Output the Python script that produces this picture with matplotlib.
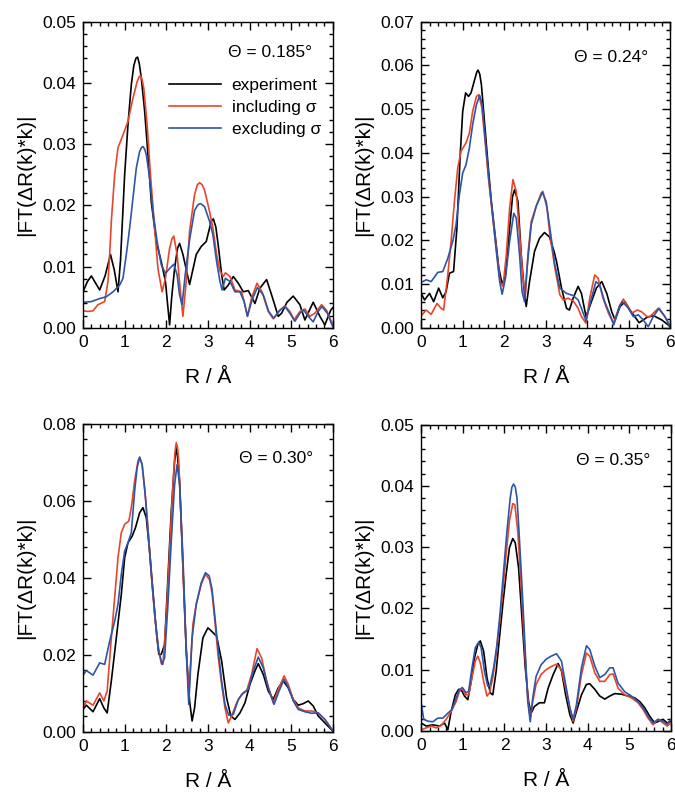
import matplotlib
matplotlib.use("Agg")
import matplotlib.pyplot as plt
from matplotlib.ticker import MultipleLocator, FormatStrFormatter

plt.rcParams['font.family'] = ['Liberation Sans', 'DejaVu Sans']

# |FT(dR(k)*k)| vs R, pairs of (R in Angstrom, magnitude)
# theta = 0.185 deg
exp_185 = [(0.0, 0.0059), (0.1, 0.0075), (0.2, 0.0085), (0.4, 0.0062), (0.53, 0.0085), (0.66, 0.012),
           (0.75, 0.0095), (0.84, 0.0059), (0.9, 0.011), (0.95, 0.018), (1.0, 0.025), (1.08, 0.0332),
           (1.16, 0.0397), (1.22, 0.0428), (1.27, 0.0440), (1.31, 0.0442), (1.35, 0.0432), (1.4, 0.0408),
           (1.48, 0.0354), (1.56, 0.0283), (1.64, 0.0206), (1.76, 0.0141), (1.88, 0.0108), (1.98, 0.0076),
           (2.03, 0.004), (2.08, 0.0005), (2.13, 0.005), (2.2, 0.0097), (2.27, 0.0130), (2.32, 0.0138),
           (2.4, 0.012), (2.56, 0.0071), (2.72, 0.012), (2.84, 0.0133), (2.96, 0.0141), (3.08, 0.0174),
           (3.13, 0.0178), (3.19, 0.0165), (3.25, 0.0134), (3.33, 0.0087), (3.39, 0.0062), (3.49, 0.007),
           (3.61, 0.0084), (3.73, 0.0073), (3.85, 0.0059), (3.97, 0.0061), (4.13, 0.004), (4.25, 0.0065),
           (4.41, 0.0079), (4.53, 0.0054), (4.69, 0.0019), (4.77, 0.0024), (4.9, 0.0042), (5.05, 0.0052),
           (5.21, 0.0038), (5.33, 0.0013), (5.53, 0.0042), (5.69, 0.0019), (5.81, 0.0005), (5.95, 0.0029),
           (6.0, 0.0033)]
inc_185 = [(0.0, 0.0028), (0.12, 0.0027), (0.24, 0.0028), (0.36, 0.0038), (0.52, 0.0043), (0.6, 0.0076),
           (0.64, 0.0120), (0.68, 0.0174), (0.76, 0.025), (0.84, 0.0294), (0.96, 0.0315), (1.08, 0.0337),
           (1.2, 0.0375), (1.3, 0.0402), (1.35, 0.0410), (1.38, 0.0412), (1.42, 0.0405), (1.46, 0.0391),
           (1.54, 0.0332), (1.62, 0.025), (1.72, 0.0163), (1.8, 0.0097), (1.9, 0.0059), (1.98, 0.0081),
           (2.08, 0.013), (2.14, 0.0146), (2.18, 0.015), (2.26, 0.012), (2.34, 0.0059), (2.4, 0.0019),
           (2.48, 0.0076), (2.56, 0.0158), (2.68, 0.0218), (2.75, 0.0234), (2.8, 0.0237), (2.86, 0.0234),
           (2.92, 0.0225), (3.04, 0.019), (3.12, 0.0163), (3.21, 0.012), (3.29, 0.0093), (3.37, 0.0084),
           (3.42, 0.009), (3.53, 0.0084), (3.65, 0.0062), (3.81, 0.0059), (3.89, 0.0038), (3.95, 0.0019),
           (4.05, 0.0049), (4.18, 0.0073), (4.3, 0.0059), (4.45, 0.0027), (4.57, 0.0015), (4.73, 0.0029),
           (4.85, 0.0036), (4.97, 0.0027), (5.07, 0.0013), (5.21, 0.0027), (5.33, 0.0031), (5.45, 0.0019),
           (5.57, 0.0024), (5.73, 0.0038), (5.85, 0.0029), (6.0, 0.0005)]
exc_185 = [(0.0, 0.0042), (0.2, 0.0043), (0.4, 0.0048), (0.56, 0.0051), (0.72, 0.0059), (0.88, 0.007),
           (0.96, 0.0081), (1.04, 0.012), (1.12, 0.0163), (1.2, 0.0212), (1.28, 0.0261), (1.36, 0.0288),
           (1.4, 0.0294), (1.44, 0.0296), (1.48, 0.0292), (1.52, 0.0283), (1.6, 0.0245), (1.68, 0.019),
           (1.78, 0.0141), (1.88, 0.0103), (1.98, 0.0089), (2.08, 0.0097), (2.18, 0.0104), (2.26, 0.0087),
           (2.32, 0.0054), (2.38, 0.0038), (2.46, 0.009), (2.56, 0.0144), (2.68, 0.0192), (2.76, 0.0201),
           (2.82, 0.0203), (2.92, 0.0198), (3.04, 0.0174), (3.12, 0.0152), (3.21, 0.0108), (3.29, 0.0076),
           (3.34, 0.0062), (3.42, 0.0081), (3.53, 0.0076), (3.65, 0.0059), (3.77, 0.0059), (3.87, 0.0043),
           (3.95, 0.0019), (4.06, 0.0046), (4.19, 0.0066), (4.33, 0.0054), (4.46, 0.0027), (4.58, 0.0016),
           (4.73, 0.0029), (4.85, 0.0035), (4.97, 0.0024), (5.09, 0.0011), (5.21, 0.0024), (5.3, 0.0029),
           (5.45, 0.0016), (5.53, 0.001), (5.65, 0.0027), (5.74, 0.0035), (5.87, 0.0024), (6.0, 0.0002)]

# theta = 0.24 deg
exp_24 = [(0.0, 0.0079), (0.08, 0.0064), (0.2, 0.0079), (0.3, 0.006), (0.42, 0.0091), (0.52, 0.0069),
          (0.6, 0.0083), (0.68, 0.0125), (0.78, 0.0129), (0.86, 0.0228), (0.94, 0.0396), (1.0, 0.0495),
          (1.07, 0.0537), (1.14, 0.0529), (1.2, 0.0537), (1.29, 0.0568), (1.34, 0.0585), (1.37, 0.0589),
          (1.41, 0.0580), (1.45, 0.0556), (1.53, 0.0465), (1.61, 0.0373), (1.69, 0.0289), (1.78, 0.0213),
          (1.87, 0.0137), (1.95, 0.01), (2.03, 0.0121), (2.13, 0.0228), (2.2, 0.0300), (2.25, 0.0316),
          (2.33, 0.0289), (2.41, 0.0167), (2.49, 0.0076), (2.53, 0.0049), (2.61, 0.0106), (2.73, 0.0175),
          (2.85, 0.0205), (2.97, 0.0218), (3.09, 0.0208), (3.2, 0.0175), (3.26, 0.0152), (3.38, 0.0091),
          (3.5, 0.0045), (3.57, 0.0041), (3.66, 0.0068), (3.78, 0.0095), (3.86, 0.0079), (3.97, 0.0026),
          (4.1, 0.006), (4.22, 0.0091), (4.35, 0.0106), (4.47, 0.0079), (4.59, 0.0037), (4.67, 0.0018),
          (4.79, 0.0049), (4.91, 0.006), (5.03, 0.0041), (5.25, 0.0012), (5.45, 0.0025), (5.6, 0.0028),
          (5.8, 0.0018), (5.95, 0.0007), (6.0, 0.0002)]
inc_24 = [(0.0, 0.0028), (0.12, 0.0041), (0.24, 0.0031), (0.38, 0.0056), (0.48, 0.0045), (0.54, 0.0041),
          (0.64, 0.0121), (0.72, 0.0198), (0.8, 0.0289), (0.88, 0.0365), (0.96, 0.0404), (1.08, 0.0423),
          (1.16, 0.0445), (1.24, 0.0495), (1.33, 0.0529), (1.39, 0.0533), (1.46, 0.0503), (1.54, 0.0426),
          (1.62, 0.0342), (1.71, 0.0266), (1.81, 0.0182), (1.9, 0.0106), (1.97, 0.0095), (2.05, 0.0167),
          (2.13, 0.0274), (2.21, 0.0339), (2.29, 0.0312), (2.37, 0.0213), (2.45, 0.0114), (2.51, 0.0076),
          (2.57, 0.0167), (2.65, 0.0243), (2.77, 0.0278), (2.89, 0.0308), (2.93, 0.0312), (3.03, 0.0274),
          (3.1, 0.0213), (3.22, 0.0137), (3.34, 0.0076), (3.42, 0.0064), (3.54, 0.0068), (3.66, 0.0062),
          (3.78, 0.0045), (3.86, 0.0026), (3.97, 0.0011), (4.06, 0.0068), (4.18, 0.0121), (4.26, 0.0114),
          (4.38, 0.0068), (4.51, 0.0034), (4.63, 0.0011), (4.79, 0.0053), (4.87, 0.0066), (4.95, 0.0053),
          (5.07, 0.0034), (5.21, 0.0041), (5.31, 0.0037), (5.44, 0.0026), (5.51, 0.0026), (5.71, 0.0045),
          (5.87, 0.0026), (6.0, 0.0003)]
exc_24 = [(0.0, 0.0104), (0.12, 0.011), (0.24, 0.0106), (0.4, 0.0127), (0.52, 0.0129), (0.64, 0.0159),
          (0.76, 0.0198), (0.84, 0.0236), (0.92, 0.0304), (1.0, 0.0354), (1.08, 0.0373), (1.16, 0.0411),
          (1.24, 0.0465), (1.33, 0.051), (1.41, 0.0531), (1.47, 0.051), (1.54, 0.0434), (1.62, 0.035),
          (1.71, 0.0266), (1.81, 0.0175), (1.89, 0.0106), (1.95, 0.0077), (2.03, 0.0114), (2.13, 0.0198),
          (2.23, 0.0262), (2.29, 0.0251), (2.37, 0.0167), (2.43, 0.0083), (2.49, 0.006), (2.55, 0.0137),
          (2.65, 0.0236), (2.77, 0.0278), (2.92, 0.031), (3.01, 0.0289), (3.1, 0.0228), (3.22, 0.0144),
          (3.34, 0.0091), (3.5, 0.0079), (3.66, 0.0074), (3.78, 0.0064), (3.86, 0.0045), (3.97, 0.0016),
          (4.08, 0.006), (4.21, 0.0106), (4.3, 0.0098), (4.42, 0.006), (4.55, 0.003), (4.64, 0.0007),
          (4.77, 0.0049), (4.85, 0.006), (4.99, 0.0045), (5.11, 0.0026), (5.23, 0.003), (5.35, 0.0018),
          (5.47, 0.0003), (5.59, 0.0026), (5.73, 0.0045), (5.87, 0.0026), (6.0, 0.0003)]

# theta = 0.30 deg
exp_30 = [(0.0, 0.0058), (0.08, 0.0069), (0.24, 0.0052), (0.4, 0.0086), (0.5, 0.0062), (0.58, 0.0049),
          (0.68, 0.0132), (0.8, 0.0244), (0.92, 0.0357), (1.0, 0.0452), (1.08, 0.0491), (1.18, 0.0508),
          (1.26, 0.053), (1.36, 0.0569), (1.44, 0.0582), (1.52, 0.0556), (1.6, 0.0469), (1.68, 0.0365),
          (1.76, 0.0261), (1.82, 0.0201), (1.88, 0.0201), (1.96, 0.0227), (2.04, 0.04), (2.12, 0.0573),
          (2.2, 0.0703), (2.25, 0.0742), (2.32, 0.0651), (2.4, 0.0426), (2.48, 0.021), (2.56, 0.008),
          (2.62, 0.0028), (2.68, 0.0062), (2.76, 0.0149), (2.88, 0.0244), (3.0, 0.027), (3.09, 0.0261),
          (3.21, 0.0248), (3.33, 0.0184), (3.45, 0.0088), (3.55, 0.0041), (3.65, 0.0032), (3.77, 0.0049),
          (3.89, 0.0075), (4.01, 0.0123), (4.13, 0.0158), (4.21, 0.0177), (4.33, 0.0149), (4.45, 0.0106),
          (4.57, 0.0084), (4.69, 0.0114), (4.81, 0.0132), (4.93, 0.0114), (5.05, 0.0084), (5.17, 0.0069),
          (5.29, 0.0073), (5.41, 0.008), (5.53, 0.0067), (5.65, 0.0041), (5.81, 0.0023), (6.0, 0.0002)]
inc_30 = [(0.0, 0.0062), (0.08, 0.008), (0.24, 0.0069), (0.4, 0.0101), (0.5, 0.008), (0.58, 0.0106),
          (0.68, 0.0244), (0.76, 0.0348), (0.84, 0.0452), (0.92, 0.0517), (1.0, 0.0539), (1.1, 0.0547),
          (1.16, 0.0582), (1.24, 0.0651), (1.32, 0.0703), (1.36, 0.0713), (1.42, 0.0694), (1.48, 0.0634),
          (1.56, 0.053), (1.64, 0.0409), (1.72, 0.0305), (1.8, 0.0223), (1.88, 0.0177), (1.92, 0.0175),
          (2.0, 0.0296), (2.08, 0.0469), (2.16, 0.0642), (2.21, 0.0728), (2.24, 0.0751), (2.27, 0.0738),
          (2.3, 0.0703), (2.38, 0.0487), (2.46, 0.0261), (2.54, 0.0097), (2.64, 0.0279), (2.72, 0.0331),
          (2.84, 0.0383), (2.94, 0.0409), (3.04, 0.0395), (3.1, 0.036), (3.17, 0.0285), (3.25, 0.0192),
          (3.33, 0.0123), (3.41, 0.0062), (3.49, 0.0023), (3.57, 0.0041), (3.69, 0.0075), (3.81, 0.0097),
          (3.93, 0.0106), (4.05, 0.0149), (4.18, 0.0216), (4.29, 0.0192), (4.41, 0.0132), (4.57, 0.0075),
          (4.69, 0.011), (4.83, 0.0145), (4.93, 0.0123), (5.05, 0.0084), (5.17, 0.0062), (5.33, 0.0054),
          (5.49, 0.0054), (5.65, 0.0049), (5.81, 0.0032), (6.0, 0.0003)]
exc_30 = [(0.0, 0.0147), (0.08, 0.0159), (0.24, 0.0147), (0.4, 0.0179), (0.52, 0.0175), (0.64, 0.0235),
          (0.76, 0.0287), (0.84, 0.0331), (0.92, 0.0409), (1.0, 0.0469), (1.08, 0.0491), (1.16, 0.0517),
          (1.24, 0.0625), (1.3, 0.0686), (1.36, 0.0713), (1.42, 0.0694), (1.5, 0.0608), (1.58, 0.0495),
          (1.66, 0.0383), (1.74, 0.0287), (1.82, 0.021), (1.9, 0.0175), (1.96, 0.0192), (2.04, 0.0331),
          (2.12, 0.0495), (2.2, 0.0642), (2.26, 0.0694), (2.32, 0.0642), (2.4, 0.0452), (2.48, 0.021),
          (2.54, 0.0071), (2.62, 0.0244), (2.72, 0.0331), (2.84, 0.0387), (2.94, 0.0413), (3.03, 0.0405),
          (3.1, 0.037), (3.17, 0.0296), (3.25, 0.021), (3.33, 0.0132), (3.41, 0.0071), (3.5, 0.0043),
          (3.61, 0.0045), (3.73, 0.0084), (3.85, 0.0101), (3.97, 0.011), (4.09, 0.0158), (4.21, 0.0194),
          (4.33, 0.0166), (4.45, 0.0114), (4.59, 0.0071), (4.71, 0.0106), (4.83, 0.0136), (4.93, 0.0116),
          (5.05, 0.008), (5.17, 0.0058), (5.33, 0.0052), (5.49, 0.0048), (5.65, 0.0049), (5.81, 0.0032),
          (6.0, 0.0003)]

# theta = 0.35 deg
exp_35 = [(0.0, 0.0013), (0.12, 0.0008), (0.28, 0.001), (0.44, 0.0008), (0.56, 0.0013), (0.64, 0.0002),
          (0.72, 0.0032), (0.82, 0.0059), (0.9, 0.0068), (0.98, 0.0065), (1.04, 0.0057), (1.12, 0.0051),
          (1.2, 0.0081), (1.28, 0.0119), (1.36, 0.0141), (1.42, 0.0147), (1.5, 0.013), (1.58, 0.0087),
          (1.66, 0.0062), (1.72, 0.0059), (1.8, 0.0097), (1.88, 0.0152), (1.96, 0.0206), (2.04, 0.0255),
          (2.12, 0.0299), (2.2, 0.0314), (2.26, 0.0307), (2.34, 0.0266), (2.42, 0.0185), (2.5, 0.0103),
          (2.58, 0.0048), (2.64, 0.0029), (2.72, 0.004), (2.84, 0.0046), (2.96, 0.0046), (3.05, 0.007),
          (3.17, 0.0092), (3.29, 0.011), (3.37, 0.0098), (3.47, 0.0059), (3.57, 0.0027), (3.65, 0.0013),
          (3.73, 0.0032), (3.85, 0.0059), (3.97, 0.0076), (4.05, 0.0077), (4.17, 0.0068), (4.29, 0.0057),
          (4.41, 0.0052), (4.53, 0.0057), (4.65, 0.0061), (4.81, 0.006), (4.97, 0.0057), (5.13, 0.0054),
          (5.25, 0.0048), (5.37, 0.0038), (5.49, 0.0024), (5.61, 0.0013), (5.71, 0.0016), (5.81, 0.0019),
          (5.91, 0.0013), (6.0, 0.0016)]
inc_35 = [(0.0, 0.0002), (0.12, 0.0005), (0.24, 0.0008), (0.36, 0.0005), (0.48, 0.0009), (0.6, 0.0019),
          (0.72, 0.0032), (0.84, 0.0048), (0.92, 0.0065), (0.98, 0.0071), (1.06, 0.0059), (1.14, 0.0059),
          (1.22, 0.0087), (1.3, 0.0114), (1.36, 0.0122), (1.42, 0.0111), (1.5, 0.0081), (1.58, 0.0057),
          (1.64, 0.0062), (1.72, 0.0087), (1.8, 0.0125), (1.88, 0.0174), (1.96, 0.0228), (2.04, 0.0288),
          (2.12, 0.0343), (2.2, 0.0371), (2.25, 0.0369), (2.32, 0.0326), (2.4, 0.0239), (2.48, 0.0141),
          (2.56, 0.0054), (2.62, 0.0021), (2.68, 0.0048), (2.76, 0.0076), (2.88, 0.0092), (3.0, 0.01),
          (3.12, 0.0105), (3.25, 0.0109), (3.37, 0.01), (3.47, 0.007), (3.57, 0.0038), (3.65, 0.0016),
          (3.73, 0.0038), (3.85, 0.0092), (3.97, 0.0127), (4.05, 0.0122), (4.17, 0.0095), (4.29, 0.0081),
          (4.41, 0.0081), (4.53, 0.0092), (4.61, 0.0093), (4.73, 0.007), (4.89, 0.0059), (5.05, 0.0054),
          (5.21, 0.0046), (5.33, 0.0035), (5.45, 0.0021), (5.57, 0.001), (5.69, 0.0019), (5.81, 0.0013),
          (5.91, 0.0008), (6.0, 0.0013)]
exc_35 = [(0.0, 0.0046), (0.06, 0.0019), (0.16, 0.0016), (0.28, 0.0015), (0.4, 0.0021), (0.52, 0.0021),
          (0.64, 0.0029), (0.74, 0.0035), (0.84, 0.0054), (0.92, 0.0068), (1.0, 0.007), (1.08, 0.0062),
          (1.14, 0.0065), (1.22, 0.0103), (1.3, 0.0136), (1.38, 0.0145), (1.44, 0.0136), (1.52, 0.0097),
          (1.6, 0.0073), (1.66, 0.0076), (1.74, 0.0103), (1.82, 0.0141), (1.9, 0.0196), (1.98, 0.0261),
          (2.06, 0.0326), (2.14, 0.0381), (2.18, 0.0398), (2.22, 0.0403), (2.26, 0.0398), (2.3, 0.0381),
          (2.34, 0.0337), (2.42, 0.0239), (2.5, 0.013), (2.56, 0.0048), (2.62, 0.0015), (2.68, 0.0054),
          (2.76, 0.0089), (2.88, 0.0108), (3.0, 0.0117), (3.12, 0.0122), (3.25, 0.0126), (3.37, 0.0114),
          (3.47, 0.0076), (3.57, 0.0038), (3.65, 0.0019), (3.73, 0.0043), (3.85, 0.0103), (3.97, 0.0139),
          (4.05, 0.0133), (4.17, 0.0106), (4.29, 0.0087), (4.41, 0.0092), (4.53, 0.0103), (4.61, 0.0103),
          (4.73, 0.0078), (4.89, 0.0064), (5.05, 0.0057), (5.21, 0.0048), (5.33, 0.0038), (5.45, 0.0024),
          (5.57, 0.0013), (5.69, 0.0019), (5.81, 0.0016), (5.91, 0.0011), (6.0, 0.0019)]

angles = ["0.185", "0.24", "0.30", "0.35"]
ymax = [0.05, 0.07, 0.08, 0.05]
ymajor = [0.01, 0.01, 0.02, 0.01]
yminor = [0.002, 0.002, 0.004, 0.002]
series = [(exp_185, inc_185, exc_185), (exp_24, inc_24, exc_24),
          (exp_30, inc_30, exc_30), (exp_35, inc_35, exc_35)]
labels = ["experiment", "including σ", "excluding σ"]
colors = ["black", "#e8452c", "#2d55a8"]

# axes boxes in figure fractions
boxes = [(0.123, 0.589, 0.370, 0.384),
         (0.624, 0.589, 0.369, 0.384),
         (0.123, 0.083, 0.370, 0.386),
         (0.624, 0.084, 0.370, 0.384)]
theta_pos = [(0.916, 0.898), (0.912, 0.884), (0.92, 0.888), (0.916, 0.884)]

fig = plt.figure(figsize=(6.75, 7.98), dpi=100)

for i in range(4):
    ax = fig.add_axes(boxes[i])
    for curve, lab, col in zip(series[i], labels, colors):
        r, v = zip(*curve)
        ax.plot(r, v, color=col, lw=1.2, label=lab, solid_joinstyle='round')

    ax.set_xlim(0, 6)
    ax.set_ylim(0, ymax[i])
    ax.xaxis.set_major_locator(MultipleLocator(1))
    ax.xaxis.set_minor_locator(MultipleLocator(0.2))
    ax.yaxis.set_major_locator(MultipleLocator(ymajor[i]))
    ax.yaxis.set_minor_locator(MultipleLocator(yminor[i]))
    ax.yaxis.set_major_formatter(FormatStrFormatter('%.2f'))
    ax.tick_params(which='both', direction='in', top=True, right=True, width=1.0, labelsize=12.5)
    ax.tick_params(which='major', length=6, pad=5)
    ax.tick_params(which='minor', length=3)
    for s in ax.spines.values():
        s.set_linewidth(1.0)

    ax.set_xlabel("R / Å", fontsize=15, labelpad=13)
    ax.set_ylabel("|FT(ΔR(k)*k)|", fontsize=15, labelpad=5)
    ax.text(theta_pos[i][0], theta_pos[i][1], "Θ = " + angles[i] + "°", transform=ax.transAxes,
            ha='right', va='center', fontsize=12.5)

    if i == 0:
        ax.legend(loc='upper left', bbox_to_anchor=(0.345, 0.815), frameon=False, fontsize=12.5,
                  handlelength=3.0, handletextpad=0.6, labelspacing=0.38, borderpad=0, borderaxespad=0)

fig.savefig("out.png", dpi=100)
